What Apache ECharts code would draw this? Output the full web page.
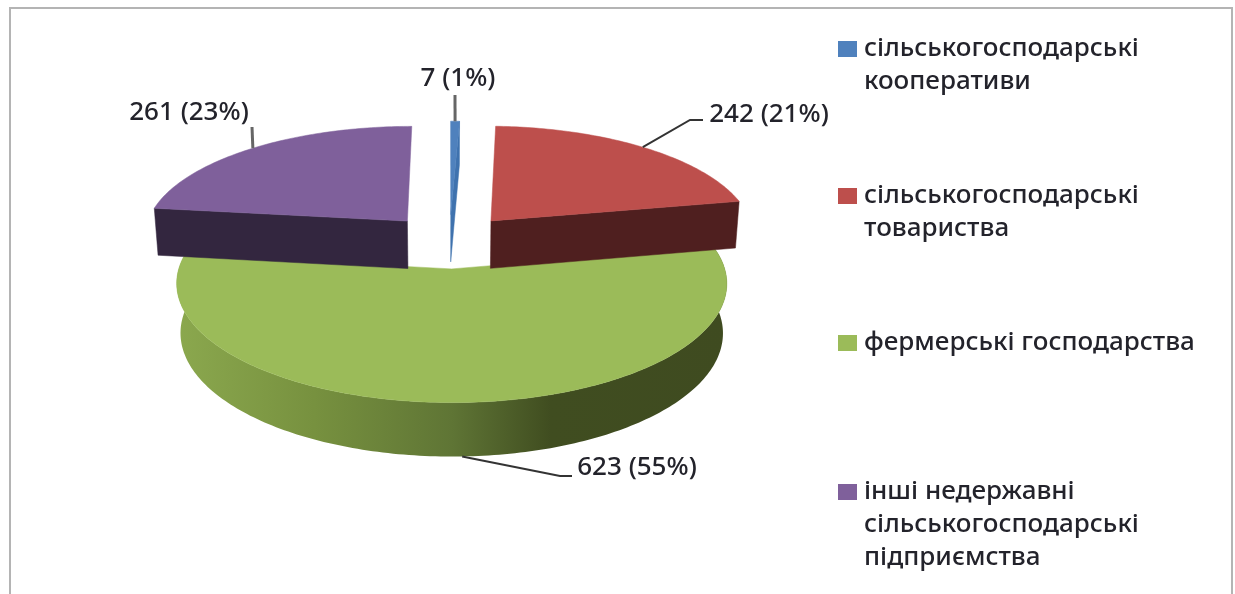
<!DOCTYPE html>
<html>
<head>
<meta charset="utf-8">
<style>
html,body{margin:0;padding:0;background:#fff}
#chart{width:1235px;height:594px;filter:blur(0.6px)}
</style>
<script src="https://cdn.jsdelivr.net/npm/echarts@6/dist/echarts.min.js"></script>
</head>
<body>
<div id="chart"></div>
<script>
// Data
const categories = ['сільськогосподарські кооперативи', 'сільськогосподарські товариства', 'фермерські господарства', 'інші недержавні сільськогосподарські підприємства'];
const legendLines = [['сільськогосподарські', 'кооперативи'], ['сільськогосподарські', 'товариства'], ['фермерські господарства'], ['інші недержавні', 'сільськогосподарські', 'підприємства']];
const values = [7, 242, 623, 261];

// Styles
const topColors = ['#4f81bd', '#bd4f4c', '#9bbb59', '#7f609b'];
const wallColors = ['#3f72ae', '#4f1f1f', '#3f4c20', '#33263f'];
const drawOrder = [3, 3, 1, 2];

// Layout: camera for the 3D view and label placement
const view = { cx: 449.5, cy: 241, R: 265, explode: 65, height: 54, persp: 0.00045, perspZ: 0.00025, sin: 0.417, cos: 0.905 };
const labelCentres = [[458, 79], [769, 115], [637, 468], [189, 113]];
const leaderEnds = [[[455, 95]], [[690, 120], [703, 120]], [[560, 476], [572, 476]], [[252, 127]]];
const legendFirstLineY = [49, 196, 343, 492];
const legendLeft = 838;
const lineH = 33;
const font = '"Noto Sans"';
const fontSize = 26;
const textColor = '#23232b';

const total = values.reduce(function (a, b) { return a + b; }, 0);
const starts = [];
values.reduce(function (acc, v, i) { starts[i] = acc; return acc + v; }, 0);

function project(X, Y, Z) {
  const s = 1 / (1 + view.persp * Y - view.perspZ * Z);
  return [view.cx + X * s, view.cy - (Y * view.sin + Z * view.cos) * s];
}

function sliceShape(params, api) {
  const i = params.seriesIndex;
  const v = api.value(0);
  const a0 = starts[i] / total * 2 * Math.PI;
  const a1 = a0 + v / total * 2 * Math.PI;
  const mid = (a0 + a1) / 2;
  const ox = view.explode * Math.sin(mid), oy = view.explode * Math.cos(mid);
  const rim = function (a, z) { return project(ox + view.R * Math.sin(a), oy + view.R * Math.cos(a), z); };
  const apex = function (z) { return project(ox, oy, z); };
  const steps = Math.max(4, Math.ceil((a1 - a0) * 180 / Math.PI));
  const arcTop = [], arcBottom = [];
  for (let k = 0; k <= steps; k++) {
    const a = a0 + (a1 - a0) * k / steps;
    arcTop.push(rim(a, 0));
    arcBottom.push(rim(a, -view.height));
  }
  const children = [];
  if (i === 2) {
    children.push({ type: 'polygon', silent: true, shape: { points: arcTop.concat(arcBottom.slice().reverse()) },
      style: { fill: new echarts.graphic.LinearGradient(0, 0, 1, 0, [
        { offset: 0, color: '#8ba84e' }, { offset: 0.25, color: '#77913f' }, { offset: 0.5, color: '#5f7535' },
        { offset: 0.68, color: '#404d20' }, { offset: 1, color: '#3f4b20' }]) } });
  } else {
    const idx = i === 3 ? 0 : steps;
    children.push({ type: 'polygon', silent: true, shape: { points: [apex(0), arcTop[idx], arcBottom[idx], apex(-view.height)] },
      style: { fill: wallColors[i], stroke: wallColors[i], lineWidth: 0.5 } });
  }
  children.push({ type: 'polygon', silent: true, shape: { points: [apex(0)].concat(arcTop) },
    style: { fill: topColors[i], stroke: topColors[i], lineWidth: 0.5 } });

  // leader line from the rim to the label
  const start = i === 2 ? rim(mid, -view.height) : rim(mid, 0);
  const grey = i === 0 || i === 3;
  children.push({ type: 'polyline', silent: true, shape: { points: [start].concat(leaderEnds[i]) },
    style: { fill: null, stroke: grey ? '#666' : '#333', lineWidth: grey ? 3 : 2 } });
  children.push({ type: 'text', silent: true, style: {
    text: v + ' (' + Math.round(v / total * 100) + '%)', x: labelCentres[i][0], y: labelCentres[i][1],
    align: 'center', verticalAlign: 'middle', fill: textColor, font: '500 ' + fontSize + 'px ' + font } });
  return { type: 'group', children: children };
}

const option = {
  animation: false,
  backgroundColor: '#fff',
  graphic: [{ type: 'polyline', silent: true, shape: { points: [[10, 620], [10, 8], [1232, 8], [1232, 620]] },
    style: { fill: null, stroke: '#b4b4b4', lineWidth: 2 } }],
  legend: categories.map(function (name, i) {
    const n = legendLines[i].length;
    const text = (n > 1 ? '\n'.repeat(n - 1) : '') + legendLines[i].join('\n');
    return {
      data: [name], selectedMode: false, orient: 'vertical', left: legendLeft, padding: 0,
      top: legendFirstLineY[i] - (2 * n - 1) * lineH / 2,
      itemWidth: 21, itemHeight: 16, icon: 'path://M0 0H19V16H0Z M21 0L21 0',
      formatter: function () { return text; },
      textStyle: { fontFamily: font, fontSize: fontSize, fontWeight: 500, lineHeight: lineH, color: textColor }
    };
  }),
  series: categories.map(function (name, i) {
    return {
      type: 'custom', name: name, coordinateSystem: 'none', z: drawOrder[i], silent: true,
      itemStyle: { color: topColors[i] }, renderItem: sliceShape, data: [[values[i]]]
    };
  })
};
echarts.init(document.getElementById('chart')).setOption(option);
</script>
</body>
</html>
